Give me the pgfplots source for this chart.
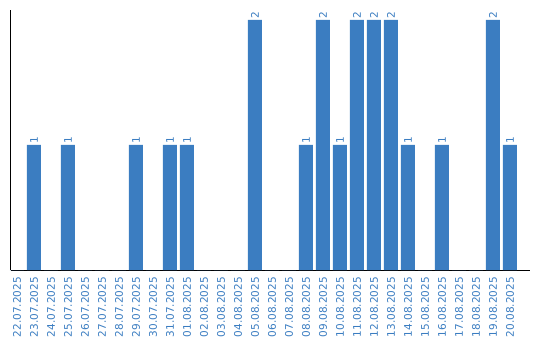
\documentclass[border=0pt]{standalone}
\usepackage{pgfplots}
\pgfplotsset{compat=1.18}
\usepackage{pgfplotstable}
\usepackage{fontspec}
\setmainfont{DejaVu Sans}
\definecolor{barblue}{RGB}{59,125,193}
\pgfplotstableread{
idx value
0 0
1 1
2 0
3 1
4 0
5 0
6 0
7 1
8 0
9 1
10 1
11 0
12 0
13 0
14 2
15 0
16 0
17 1
18 2
19 1
20 2
21 2
22 2
23 1
24 0
25 1
26 0
27 0
28 2
29 1
}\datatable
\begin{document}
\begin{tikzpicture}
\begin{axis}[
  scale only axis,
  width=519.5pt, height=260pt,
  xmin=-0.38, xmax=30.18,
  ymin=0, ymax=2.08,
  axis x line*=bottom,
  axis y line*=left,
  axis line style={black, line width=1pt},
  ytick=\empty,
  xtick=data,
  xticklabels={22.07.2025,23.07.2025,24.07.2025,25.07.2025,26.07.2025,27.07.2025,28.07.2025,29.07.2025,30.07.2025,31.07.2025,01.08.2025,02.08.2025,03.08.2025,04.08.2025,05.08.2025,06.08.2025,07.08.2025,08.08.2025,09.08.2025,10.08.2025,11.08.2025,12.08.2025,13.08.2025,14.08.2025,15.08.2025,16.08.2025,17.08.2025,18.08.2025,19.08.2025,20.08.2025},
  major tick length=0pt,
  xticklabel style={rotate=90, anchor=east, font=\fontsize{10.5}{11}\selectfont, text=barblue, inner sep=0pt},
  xticklabel shift=7pt,
  clip=false,
]
\addplot[ybar, bar width=14pt, fill=barblue, draw=none,
  visualization depends on={y \as \yval},
  nodes near coords={\pgfmathtruncatemacro\v{\yval}\ifnum\v>0 \v\fi},
  nodes near coords style={rotate=90, anchor=west, font=\fontsize{10.5}{11}\selectfont, text=barblue, inner sep=1.5pt},
] table[x=idx, y=value] {\datatable};
\end{axis}
\path (-10.5pt,-70pt) rectangle (529.5pt,270pt);
\end{tikzpicture}
\end{document}
